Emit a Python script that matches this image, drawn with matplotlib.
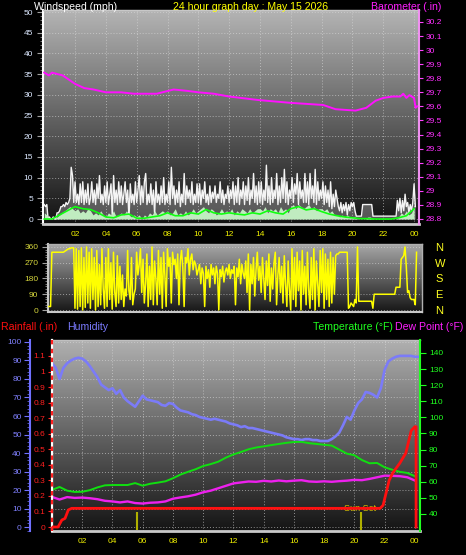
import numpy as np
import matplotlib.pyplot as plt
from matplotlib.colors import LinearSegmentedColormap
from matplotlib.ticker import MultipleLocator

plt.rcParams['font.family'] = ['Liberation Sans', 'DejaVu Sans']

W, H = 466, 555

# ---- data ----
hour_ticks = list(range(2, 25, 2))
hour_labels = ['02', '04', '06', '08', '10', '12', '14', '16', '18', '20', '22', '00']

# wind gust (mph), every 5 minutes from 00:00
gust = [
    3.5, 3, 3.5, 0, 0.5, 0, 0, 0.5, 0, 0, 1.5, 1.5,
    2, 3, 3, 3.5, 3, 4, 3.5, 4, 5, 12.5, 10.5, 4,
    9, 4, 6, 3.5, 8.5, 4, 9, 3.5, 7, 4, 8.5, 3.5,
    5, 9, 4, 7, 3.5, 8.5, 5, 10.5, 4, 6, 3.5, 8,
    4, 9, 3.5, 6, 8.5, 0.5, 10.5, 4, 7, 3.5, 9, 4,
    8, 3.5, 6, 9, 4, 7, 0, 8.5, 4, 6, 3.5, 9,
    4, 7, 10.5, 3.5, 8, 4, 9, 11, 3.5, 6, 4, 8.5,
    3.5, 7, 1, 9, 4, 6, 3.5, 8, 4, 10, 3.5, 6,
    4, 9, 3.5, 12.5, 5, 8, 3.5, 7, 4, 9, 3, 6,
    4, 11, 3.5, 8, 5, 7, 4, 9, 3.5, 6, 4, 8.5,
    4, 8.5, 3.5, 7, 5, 9, 4, 6, 3.5, 8, 4, 6.5,
    5, 8, 4, 6, 5, 9, 4, 7, 3.5, 6, 5, 8,
    4, 7, 5, 9, 3.5, 8, 4, 10, 3.5, 7, 5, 9,
    3.5, 8, 4.5, 10, 3.5, 7, 5, 11, 4, 8, 3.5, 9,
    4, 9, 3.5, 7, 4.5, 13, 4, 8, 3.5, 10, 4, 7,
    5, 11, 3.5, 8, 4, 10, 5, 12, 4, 9, 3.5, 7,
    5, 10, 4, 8.5, 6, 11, 3.5, 9, 5, 7, 4, 11,
    4, 9, 3.5, 11, 5, 8, 4, 12, 3.5, 9, 4.5, 7,
    5, 9, 3.5, 8, 4, 7, 3, 9, 2.5, 6, 3, 7,
    5, 3, 2, 4, 1.5, 3.5, 2, 4, 1, 3.5, 2, 4,
    3, 4, 2, 0.7, 0.7, 0.7, 0.7, 0.7, 3.5, 3.5, 3.5, 3.5,
    3.5, 3.5, 3.5, 3.5, 0.7, 0.7, 0.7, 0.7, 0.7, 0.7, 0.7, 0.7,
    0.7, 0.7, 0.7, 0.7, 0.7, 0.7, 0.7, 0.7, 0.7, 0.7, 0.7, 4.5,
    2, 5, 1.5, 4.5, 2, 6, 3, 4, 1.5, 3.5, 2, 4,
    8.5, 3,
]

# wind speed (mph), every 10 minutes
speed = [
    1.5, 1, 0, 0, 0, 0.5,
    1, 1.5, 2, 2.5, 3, 2.5,
    2, 2.5, 1.5, 2, 1.5, 2.5,
    2, 1, 1.5, 1, 2, 1,
    0.5, 1.5, 1, 2, 0.5, 1,
    1.5, 1, 2, 1, 0.5, 1,
    0.5, 1, 0, 1, 0.5, 1.5,
    1, 2, 1, 1.5, 2, 1.5,
    2, 1, 1.5, 2.5, 1, 1.5,
    1, 2, 1, 1.5, 2.5, 1.5,
    2, 2.5, 3, 2, 1.5, 2.5,
    2, 1, 1.5, 2.5, 1.5, 2,
    1.5, 2.5, 1, 2, 1.5, 2.5,
    2, 1.5, 2.5, 1.5, 2, 2.5,
    2.5, 2, 3, 1.5, 2.5, 2,
    2.5, 1.5, 3, 2, 2.5, 1.5,
    3, 3.5, 2.5, 3.5, 3, 2.5,
    3, 3.5, 2.5, 3, 2, 2.5,
    2.5, 2, 2.5, 1.5, 2, 1,
    1, 0.5, 1, 0.5, 1, 0.5,
    0.5, 0.5, 0, 0, 0, 0,
    0.5, 0.5, 0, 0, 0, 0,
    0, 0, 0, 0, 0, 0,
    0.5, 1.5, 1, 2, 1, 1.5,
    3,
]

# average wind speed (mph), every 30 minutes
wind_avg = [0, 0, 1, 2, 3, 2.5, 2.3, 1.5, 0.5, 0.3, 1, 1.2, 0.2, 0.2, 0.5, 0.8,
            1.5, 0.8, 0.8, 1.5, 1.2, 2.3, 1.5, 1.2, 1.5, 1.2, 1, 1.5, 1.2, 2, 1.5, 1.2,
            2.5, 3, 2.2, 2.5, 1.8, 1.2, 0.8, 0.5, 0.3, 0.1, 0.1, 0, 0, 0, 0.3, 0.8, 2.5]

# barometer (in)
baro_t = [0, 0.3, 0.5, 1.2, 2.0, 2.6, 3.2, 4, 5, 5.8, 7.3, 8.4, 9.3, 10, 11, 12,
          13.9, 16, 18.1, 18.9, 20.2, 20.9, 21.5, 22, 22.6, 23.1, 23.3, 23.5, 23.7, 24, 24.1, 24.2]
baro = [29.84, 29.82, 29.84, 29.82, 29.76, 29.73, 29.72, 29.70, 29.70, 29.69, 29.69, 29.72,
        29.71, 29.70, 29.69, 29.67, 29.645, 29.625, 29.61, 29.58, 29.57, 29.59, 29.64, 29.66,
        29.67, 29.67, 29.69, 29.66, 29.68, 29.66, 29.59, 29.60]
baro_ticks = [28.8, 28.9, 29.0, 29.1, 29.2, 29.3, 29.4, 29.5, 29.6, 29.7, 29.8, 29.9, 30.0, 30.1, 30.2]
baro_labels = ['28.8', '28.9', '29', '29.1', '29.2', '29.3', '29.4', '29.5', '29.6',
               '29.7', '29.8', '29.9', '30', '30.1', '30.2']

# wind direction (degrees), every 5 minutes
wind_dir = [
    20, 20, 20, 20, 20, 20, 330, 330, 330, 330, 330, 330,
    330, 330, 330, 330, 335, 340, 345, 350, 350, 355, 355, 355,
    10, 350, 5, 340, 20, 355, 0, 300, 15, 360, 40, 330,
    10, 350, 60, 300, 0, 340, 20, 260, 30, 350, 120, 10,
    300, 20, 350, 60, 270, 5, 330, 100, 20, 310, 40, 250,
    60, 200, 20, 120, 80, 340, 110, 60, 300, 30, 90, 120,
    330, 200, 260, 350, 100, 290, 40, 150, 320, 20, 250, 60,
    360, 30, 280, 180, 30, 340, 90, 300, 10, 330, 200, 20,
    350, 250, 300, 40, 330, 260, 290, 180, 320, 30, 280, 340,
    240, 20, 300, 270, 350, 200, 290, 320, 230, 280, 260, 200,
    230, 260, 150, 240, 210, 20, 250, 180, 230, 130, 260, 200,
    240, 150, 250, 210, 0, 230, 190, 250, 160, 220, 240, 200,
    260, 180, 230, 210, 250, 30, 240, 190, 290, 150, 260, 210,
    180, 280, 100, 320, 0, 260, 150, 300, 80, 230, 330, 170,
    250, 100, 300, 180, 60, 280, 140, 320, 50, 240, 120, 270,
    330, 30, 200, 300, 100, 250, 40, 310, 150, 20, 280, 120,
    0, 350, 60, 300, 20, 330, 110, 280, 0, 340, 90, 250,
    30, 330, 120, 10, 300, 60, 350, 0, 280, 150, 20, 340,
    100, 350, 10, 320, 60, 290, 20, 330, 40, 300, 90, 310,
    320, 320, 330, 330, 330, 330, 330, 330, 330, 10, 20, 40,
    30, 20, 60, 40, 360, 50, 50, 50, 50, 50, 50, 50,
    50, 50, 50, 50, 10, 90, 90, 90, 90, 90, 90, 90,
    90, 90, 90, 90, 90, 90, 90, 90, 90, 90, 130, 130,
    130, 130, 290, 300, 310, 360, 250, 100, 110, 70, 60, 60,
    60, 30, 330,
]
dir_ticks = [0, 90, 180, 270, 360]
dir_letters = ['N', 'E', 'S', 'W', 'N']

# humidity (%), every 15 minutes
humidity = [
    88.6, 86, 80, 86, 88.5, 90, 91, 91.5, 91, 89.5, 87, 84,
    81, 77, 75.5, 74, 75, 72, 74, 70, 68, 66.5, 65, 68,
    71, 69, 68.5, 68, 67.5, 66, 65.5, 67, 66.5, 64.5, 63, 62.5,
    62, 61, 60.5, 59.5, 59, 58.5, 58, 58.5, 58, 57.5, 57, 56,
    55.5, 55, 54, 54.5, 53.5, 53.5, 53, 52.5, 52, 51.5, 51, 50.5,
    50, 49.5, 48.5, 48, 47.5, 47.5, 47, 47.5, 47.5, 47, 47, 46.5,
    46.5, 46.5, 47.5, 49, 51, 55, 59.5, 58, 63, 67, 69, 73,
    72.5, 71.5, 70, 75, 85, 89.5, 91, 92, 92.5, 92.5, 92.5, 92.5,
    92, 92,
]

# temperature and dew point (F), every 30 minutes
temperature = [55, 56.8, 54.5, 53.7, 53.8, 54.8, 56.5, 57.8, 58, 58, 58, 59.2, 57.6, 58.8,
               59.5, 60.3, 62.2, 64.5, 66.2, 67.8, 69.8, 71, 72.5, 75, 77, 78.5, 80.2, 81.3,
               82, 82.8, 83.5, 84.2, 84.7, 84.8, 84, 83.5, 83, 82.5, 80, 77.5, 76.5, 73.5,
               71.5, 71.7, 69, 67.5, 66.2, 65.5, 63.5]
dew_point = [50.6, 49, 50.5, 50, 50.2, 49.8, 49.2, 48.2, 47.8, 47.2, 47.8, 46.8, 46.5, 47,
             47.2, 47.8, 49.5, 50.3, 51, 52, 53.5, 54.5, 56, 57.5, 59, 59.6, 60.2, 60, 60.6,
             60.2, 60.8, 60.3, 60.7, 61, 60.2, 60, 60.3, 60, 60.4, 60.7, 61.2, 61, 61.8,
             62.8, 63.8, 63.7, 63.5, 62.8, 60.8]

# rainfall (in)
rain_t = [0, 0.4, 0.65, 0.86, 1.08, 1.3, 21.7, 21.9, 22.1, 22.3, 22.55, 23.0, 23.4, 23.76,
          24.0, 24.08, 24.08]
rain = [0, 0, 0.045, 0.055, 0.11, 0.12, 0.12, 0.14, 0.22, 0.30, 0.35, 0.41, 0.475, 0.62,
        0.645, 0.645, 0]
rain_ticks = [0, 0.1, 0.2, 0.3, 0.4, 0.5, 0.6, 0.7, 0.8, 0.9, 1.0, 1.1]

sunrise_h = 5.62
sunset_h = 20.44

t_gust = np.arange(len(gust)) / 12
t_speed = np.arange(len(speed)) / 6
t_avg = np.arange(len(wind_avg)) / 2
t_dir = np.arange(len(wind_dir)) / 12
t_hum = np.arange(len(humidity)) / 4
t_temp = np.arange(len(temperature)) / 2


def px_axes(fig, x0, y0, x1, y1):
    # place an axes using pixel edges measured from the top-left corner
    return fig.add_axes([x0 / W, 1 - y1 / H, (x1 - x0) / W, (y1 - y0) / H])


def paint_bg(ax, top, bottom):
    cmap = LinearSegmentedColormap.from_list('bg', [bottom, top])
    ax.imshow(np.linspace(0, 1, 256).reshape(-1, 1), cmap=cmap, origin='lower',
              aspect='auto', extent=[0, 1, 0, 1], transform=ax.transAxes, zorder=0)


def dotted_grid(ax, axis='both'):
    ax.grid(True, axis=axis, color='#dcdcdc', linestyle=(0, (1, 2)), linewidth=0.7, alpha=0.6)


fig = plt.figure(figsize=(W / 100, H / 100), dpi=100, facecolor='black')

# 1. Windspeed / barometer panel
ax_w = px_axes(fig, 43, 10, 419, 224)
paint_bg(ax_w, '#b4b4b4', '#121212')
ax_w.fill_between(t_gust, 0, gust, color='#d0d0d0', alpha=0.35, lw=0, zorder=2)
ax_w.plot(t_gust, gust, color='#f4f4f4', lw=1.0, zorder=3)
ax_w.fill_between(t_speed, 0, speed, color='#c0ecc0', lw=0, zorder=4)
ax_w.plot(t_avg, wind_avg, color='#10ff10', lw=1.2, zorder=5)
ax_w.set_xlim(-0.08, 24.32)
ax_w.set_ylim(-1.2, 50.5)
ax_w.set_xticks(hour_ticks, hour_labels)
ax_w.set_yticks(range(0, 51, 5))
ax_w.yaxis.set_minor_locator(MultipleLocator(1))
ax_w.tick_params(axis='x', length=0, pad=5, labelsize=6, labelcolor='#f0f000')
ax_w.tick_params(axis='y', which='major', length=4, width=0.8, color='#a0a0a0',
                 pad=3, labelsize=6, labelcolor='#dce8ff')
ax_w.tick_params(axis='y', which='minor', length=2.5, width=0.6, color='#909090')
dotted_grid(ax_w)
ax_w.spines['left'].set(color='white', lw=1.5)
ax_w.spines['bottom'].set(color='#c8c8c8', lw=2)
ax_w.spines['top'].set(color='#c8c8c8', lw=1)
ax_w.spines['right'].set_visible(False)

ax_p = ax_w.twinx()
ax_p.plot(baro_t, baro, color='#ff10ff', lw=1.4, zorder=3)
ax_p.set_ylim(28.764, 30.285)
ax_p.set_yticks(baro_ticks, baro_labels)
ax_p.tick_params(axis='y', length=3, width=0.8, color='#ff40ff', labelcolor='#ff30ff',
                 labelsize=6, pad=2)
for s in ['left', 'top', 'bottom']:
    ax_p.spines[s].set_visible(False)
ax_p.spines['right'].set(color='#f090f0', lw=1.5)

# 2. Wind direction panel
ax_d = px_axes(fig, 48, 244, 422, 312)
paint_bg(ax_d, '#a8a8a8', '#161616')
ax_d.plot(t_dir, wind_dir, color='#ffff00', lw=1.1, zorder=3)
ax_d.set_xlim(0.25, 24.52)
ax_d.set_ylim(-11.4, 377)
ax_d.set_yticks(dir_ticks)
ax_d.yaxis.set_minor_locator(MultipleLocator(15))
ax_d.tick_params(axis='x', bottom=False, labelbottom=False)
ax_d.tick_params(axis='y', which='major', length=4, width=0.8, color='#a0a0a0',
                 pad=3, labelsize=6, labelcolor='#d4d43c')
ax_d.tick_params(axis='y', which='minor', length=2.5, width=0.6, color='#909090')
dotted_grid(ax_d, 'y')
ax_d.spines['left'].set(color='#c8c8c8', lw=1.5)
ax_d.spines['bottom'].set(color='#c8c8c8', lw=1.5)
ax_d.spines['top'].set(color='#b0b0b0', lw=1)
ax_d.spines['right'].set(color='#b0b0b0', lw=1)

ax_d2 = ax_d.twinx()
ax_d2.set_ylim(-11.4, 377)
ax_d2.set_yticks(dir_ticks, dir_letters)
ax_d2.tick_params(axis='y', length=0, pad=9.5, labelsize=8, labelcolor='#ffff20')
for s in ax_d2.spines.values():
    s.set_visible(False)

# 3. Humidity / temperature / dew point / rainfall panel
ax_h = px_axes(fig, 52, 340, 420, 531)
paint_bg(ax_h, '#b0b0b0', '#141414')
ax_h.plot(t_hum, humidity, color='#7b7bf8', lw=1.9, zorder=3)
ax_h.set_xlim(0, 24.34)
ax_h.set_ylim(-2.16, 101.08)
ax_h.set_xticks(hour_ticks, hour_labels)
ax_h.set_yticks(range(0, 101, 10))
ax_h.yaxis.set_minor_locator(MultipleLocator(2))
ax_h.tick_params(axis='x', length=0, pad=5, labelsize=6, labelcolor='#f0f000')
ax_h.tick_params(axis='y', which='major', length=4, width=0.8, color='#7070ff',
                 pad=2, labelsize=6, labelcolor='#8080ff')
ax_h.tick_params(axis='y', which='minor', length=2, width=0.6, color='#6060e0')
dotted_grid(ax_h)
ax_h.spines['left'].set_position(('axes', -22 / 368))
ax_h.spines['left'].set(color='#7070ff', lw=1.5)
ax_h.spines['bottom'].set(color='#c8c8c8', lw=2)
ax_h.spines['top'].set(color='#c0c0c0', lw=1)
ax_h.spines['right'].set_visible(False)

ax_t = ax_h.twinx()
ax_t.plot(t_temp, temperature, color='#10e010', lw=1.4, zorder=3)
ax_t.plot(t_temp, dew_point, color='#ee20ee', lw=1.7, zorder=3)
ax_t.set_ylim(29.44, 148.07)
ax_t.set_yticks(range(40, 141, 10))
ax_t.tick_params(axis='y', length=4, width=0.8, color='#20ff20', labelcolor='#20ff20',
                 labelsize=6, pad=2.5)
for s in ['left', 'top', 'bottom']:
    ax_t.spines[s].set_visible(False)
ax_t.spines['right'].set(color='#20ff20', lw=1.5)

ax_r = ax_h.twinx()
ax_r.plot(rain_t, rain, color='#ff1010', lw=2, zorder=4)
ax_r.vlines([sunrise_h, sunset_h], -0.019, 0.096, color='#b0b000', lw=1.5, zorder=3)
ax_r.text(20.37, 0.103, 'Sun Set', color='#d8c000', fontsize=6.5, ha='center', va='baseline')
ax_r.set_ylim(-0.0257, 1.2026)
ax_r.set_yticks(rain_ticks, [f'{v:g}' for v in rain_ticks])
ax_r.yaxis.set_ticks_position('left')
ax_r.tick_params(axis='y', length=3, width=0.8, color='#ff2020', labelcolor='#ff2020',
                 labelsize=6, pad=2)
for s in ['right', 'top', 'bottom']:
    ax_r.spines[s].set_visible(False)
ax_r.spines['left'].set(color='white', lw=1.6)
ax_r.plot([0, 0], [0, 1], transform=ax_r.transAxes, color='#ff2020', lw=1.6,
          ls=(0, (2, 2)), clip_on=False, zorder=6)

# titles
fig.text(34 / W, 1 - 9.5 / H, 'Windspeed (mph)', color='white', fontsize=7.6, va='baseline')
fig.text(173 / W, 1 - 9.5 / H, '24 hour graph day : May 15 2026', color='#ffff00',
         fontsize=7.6, va='baseline')
fig.text(371 / W, 1 - 9.5 / H, 'Barometer (.in)', color='#ff20ff', fontsize=7.6, va='baseline')
fig.text(1 / W, 1 - 330 / H, 'Rainfall (.in)', color='#ff1010', fontsize=7.6, va='baseline')
fig.text(67 / W, 1 - 330 / H, 'Humidity', color='#7b7bff', fontsize=7.6, va='baseline')
fig.text(313 / W, 1 - 330 / H, 'Temperature (°F)', color='#20ff20', fontsize=7.6, va='baseline')
fig.text(463 / W, 1 - 330 / H, 'Dew Point (°F)', color='#ff20ff', fontsize=7.6,
         va='baseline', ha='right')

fig.savefig('out.png', dpi=100, facecolor='black')
